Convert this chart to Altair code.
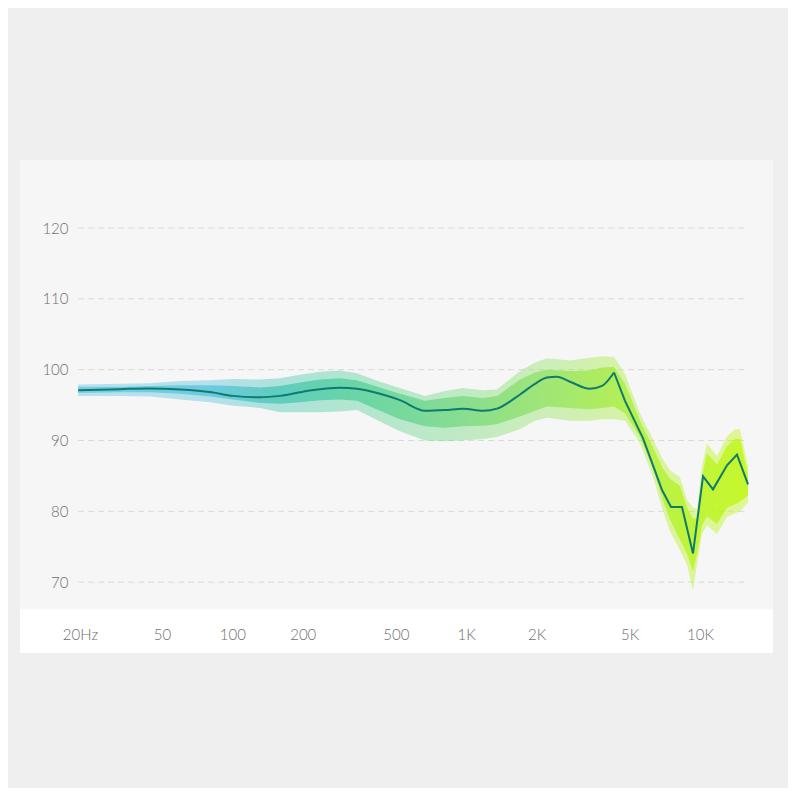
import altair as alt
import pandas as pd

# ---- data ----
# smooth response curve (Hz, dB)
line_freq = [21.9, 33.0, 43.5, 60.0, 81.5, 100.6, 131.3, 159.8, 208.7, 288.5, 341.2, 427.9,
             521.0, 666.3, 811.6, 969.0, 1180, 1354, 1699, 1969, 2216, 2445, 2779, 3384,
             3809, 4288, 4778, 5706, 6420, 6879, 7516, 8375, 9333, 10300, 11365, 13048,
             14395, 16045]
line_db = [97.1, 97.25, 97.35, 97.2, 96.8, 96.3, 96.1, 96.3, 97.0, 97.45, 97.3, 96.6,
           95.7, 94.2, 94.3, 94.5, 94.2, 94.5, 96.5, 98.0, 98.9, 99.0, 98.3, 97.3,
           97.7, 99.6, 95.6, 90.3, 85.7, 83.0, 80.6, 80.6, 74.05, 84.95, 83.1, 86.5,
           88.0, 83.8]

# raw measurement band (Hz): dense core and outer spike extents (dB)
band_freq = [21.9, 33.0, 44.4, 59.7, 80.2, 100.6, 131.3, 159.8, 194.6, 236.9, 288.5, 341.2,
             427.9, 521.0, 666.3, 811.6, 969.0, 1180, 1354, 1699, 1969, 2216, 2779, 3384,
             3809, 4288, 4778, 5539, 6295, 6948, 7442, 8211, 8800, 9333, 9710, 10200,
             10712, 11823, 13048, 14114, 14831, 16045]
core_hi = [97.6, 97.6, 97.7, 97.8, 97.8, 97.7, 97.5, 97.7, 98.2, 98.6, 98.8, 98.5,
           97.5, 96.6, 95.6, 96.0, 96.3, 96.0, 96.3, 98.6, 99.6, 100.0, 99.8, 99.9,
           100.3, 100.4, 98.0, 92.8, 89.0, 86.0, 84.6, 83.6, 80.5, 79.0, 79.0, 85.0,
           88.2, 86.6, 89.2, 90.2, 90.2, 85.2]
core_lo = [96.7, 96.8, 96.8, 96.6, 96.2, 95.8, 95.3, 95.2, 95.4, 95.7, 95.8, 95.6,
           94.2, 93.0, 92.0, 91.8, 92.0, 92.1, 92.3, 93.4, 94.2, 94.8, 94.6, 94.4,
           94.6, 94.8, 93.8, 90.5, 86.0, 81.5, 78.8, 76.0, 74.0, 71.5, 74.0, 78.0,
           79.3, 78.2, 80.5, 81.0, 81.4, 82.2]
outer_hi = [97.9, 98.0, 98.1, 98.4, 98.5, 98.7, 98.6, 98.8, 99.3, 99.7, 99.9, 99.5,
            98.3, 97.4, 96.3, 97.0, 97.4, 97.1, 97.2, 99.8, 101.0, 101.6, 101.3, 101.7,
            101.9, 101.8, 99.4, 93.8, 90.2, 87.3, 85.8, 84.8, 81.6, 80.5, 80.3, 86.4,
            89.6, 87.8, 90.6, 91.6, 91.6, 86.4]
outer_lo = [96.3, 96.3, 96.2, 95.8, 95.4, 94.9, 94.6, 94.0, 94.0, 94.0, 94.1, 94.3,
            92.7, 91.3, 90.0, 89.9, 90.0, 90.2, 90.5, 91.6, 92.8, 93.2, 92.8, 92.8,
            93.0, 93.0, 92.8, 89.6, 84.8, 80.0, 77.2, 74.5, 72.5, 68.8, 72.5, 76.8,
            78.0, 76.8, 79.2, 79.7, 80.0, 81.2]

x_ticks = [20, 50, 100, 200, 500, 1000, 2000, 5000, 10000]
y_ticks = [70, 80, 90, 100, 110, 120]

X_DOMAIN = [12.35, 20520]
Y_DOMAIN = [60, 129.6]
STRIP_TOP = 66.19  # dB level where the white label strip begins

line_df = pd.DataFrame({"f": line_freq, "db": line_db})
band_df = pd.DataFrame({"f": band_freq, "chi": core_hi, "clo": core_lo,
                        "ohi": outer_hi, "olo": outer_lo})
grid_df = pd.DataFrame({"y": y_ticks, "f1": line_freq[0], "f2": line_freq[-1]})
strip_df = pd.DataFrame({"f1": [X_DOMAIN[0]], "f2": [X_DOMAIN[1]],
                         "y1": [Y_DOMAIN[0]], "y2": [STRIP_TOP]})

FONT = "Lato"
LABEL_COLOR = "#6e6e6e"

xscale = alt.Scale(type="log", domain=X_DOMAIN, nice=False)
yscale = alt.Scale(domain=Y_DOMAIN, nice=False, zero=False)

x_axis = alt.Axis(
    values=x_ticks,
    labelExpr="datum.value == 20 ? '20Hz' : (datum.value >= 1000 ? (datum.value / 1000) + 'K' : datum.value)",
    domain=False, ticks=False, tickSize=0, grid=False, title=None,
    offset=-19, labelPadding=0, labelBaseline="middle",
    labelFont=FONT, labelFontSize=15, labelFontWeight=300, labelColor=LABEL_COLOR,
    labelOffset={"condition": {"test": "datum.value == 20", "value": 11}, "value": 0},
    labelFlush=False, labelOverlap=False, zindex=2,
)
y_axis = alt.Axis(
    values=y_ticks, domain=False, ticks=False, tickSize=0, grid=False, title=None,
    offset=-48, labelPadding=0, labelAlign="right", labelBaseline="middle",
    labelFont=FONT, labelFontSize=15, labelFontWeight=300, labelColor=LABEL_COLOR,
    zindex=2,
)

strip = alt.Chart(strip_df).mark_rect(color="#ffffff").encode(
    x=alt.X("f1:Q", scale=xscale, axis=x_axis),
    x2="f2:Q",
    y=alt.Y("y1:Q", scale=yscale, axis=y_axis),
    y2="y2:Q",
)

grid = alt.Chart(grid_df).mark_rule(color="#dadada", strokeWidth=1, strokeDash=[6, 4]).encode(
    x=alt.X("f1:Q", scale=xscale),
    x2="f2:Q",
    y=alt.Y("y:Q", scale=yscale),
)

gradient = alt.Gradient(
    gradient="linear",
    stops=[
        alt.GradientStop(color="#5ec4e2", offset=0.0),
        alt.GradientStop(color="#50c0da", offset=0.2),
        alt.GradientStop(color="#3ec4b0", offset=0.3),
        alt.GradientStop(color="#48cd98", offset=0.4),
        alt.GradientStop(color="#6ad67e", offset=0.55),
        alt.GradientStop(color="#8ee25a", offset=0.7),
        alt.GradientStop(color="#a6ee30", offset=0.82),
        alt.GradientStop(color="#b4f410", offset=0.92),
        alt.GradientStop(color="#bcf700", offset=1.0),
    ],
    x1=0, x2=1, y1=0, y2=0,
)

outer = alt.Chart(band_df).mark_area(color=gradient, opacity=0.4, interpolate="linear").encode(
    x=alt.X("f:Q", scale=xscale),
    y=alt.Y("ohi:Q", scale=yscale),
    y2="olo:Q",
)
core = alt.Chart(band_df).mark_area(color=gradient, opacity=0.7, interpolate="linear").encode(
    x=alt.X("f:Q", scale=xscale),
    y=alt.Y("chi:Q", scale=yscale),
    y2="clo:Q",
)

LINE_COLOR = "#0f7a6e"
smooth = alt.Chart(line_df).transform_filter("datum.f <= 4288").mark_line(
    color=LINE_COLOR, strokeWidth=2, interpolate="monotone"
).encode(
    x=alt.X("f:Q", scale=xscale),
    y=alt.Y("db:Q", scale=yscale),
)
sharp = alt.Chart(line_df).transform_filter("datum.f >= 4288").mark_line(
    color=LINE_COLOR, strokeWidth=2, interpolate="linear"
).encode(
    x=alt.X("f:Q", scale=xscale),
    y=alt.Y("db:Q", scale=yscale),
)

chart = alt.layer(strip, grid, outer, core, smooth, sharp).properties(
    width=753, height=493,
    background="#efefef",
    padding={"left": 12, "top": 152, "right": 15, "bottom": 135},
    autosize=alt.AutoSizeParams(type="none"),
).configure_view(fill="#f6f6f6", stroke=None)

chart.save("out.html", embed_options={"renderer": "svg", "actions": False})
